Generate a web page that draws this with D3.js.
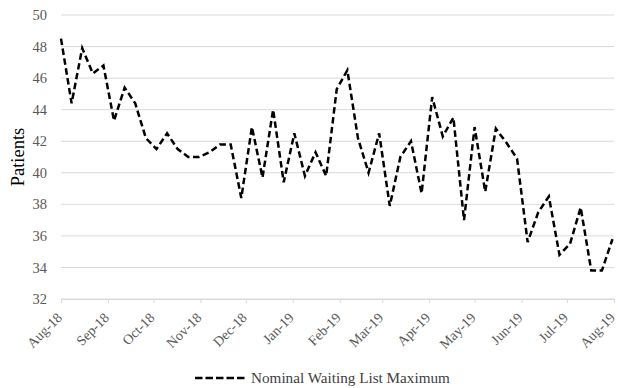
<!DOCTYPE html>
<html>
<head>
<meta charset="utf-8">
<script src="https://cdn.jsdelivr.net/npm/d3@7"></script>
<style>
  body { margin: 0; background: #fff; }
  svg { display: block; }
</style>
</head>
<body>
<div id="chart"></div>
<script>
// weekly values, starting 1 Aug 2018
const startDate = '2018-08-01';
const values = [
    48.5, 44.4, 47.9, 46.3, 46.8, 43.3, 45.4, 44.4, 42.2, 41.5,
    42.5, 41.5, 41.0, 41.0, 41.3, 41.8, 41.8, 38.4, 42.9, 39.7,
    44.0, 39.4, 42.5, 39.8, 41.3, 39.8, 45.3, 46.5, 42.2, 40.0,
    42.5, 37.9, 41.0, 42.0, 38.7, 44.8, 42.3, 43.5, 37.0, 42.9,
    38.8, 42.8, 41.9, 40.9, 35.6, 37.5, 38.5, 34.8, 35.5, 37.8,
    33.8, 33.8, 35.8
];
const yTicks = [32, 34, 36, 38, 40, 42, 44, 46, 48, 50];
const seriesName = 'Nominal Waiting List Maximum';
const yLabel = 'Patients';

const serif = '"Liberation Serif", "Times New Roman", serif';

const parse = d3.timeParse('%Y-%m-%d');
const t0 = parse(startDate);
const data = values.map((v, i) => ({ date: d3.timeDay.offset(t0, i * 7), value: v }));

const width = 618;
const height = 388;
const margin = { top: 15, right: 4, bottom: 89, left: 61 };

const svg = d3.select('#chart').append('svg')
    .attr('width', width)
    .attr('height', height);

const x = d3.scaleTime()
    .domain([parse('2018-08-01'), parse('2019-08-01')])
    .range([margin.left, width - margin.right]);

const y = d3.scaleLinear()
    .domain([32, 50])
    .range([height - margin.bottom, margin.top]);

// gridlines
svg.append('g')
    .selectAll('line')
    .data(yTicks)
    .join('line')
    .attr('x1', margin.left)
    .attr('x2', width - margin.right)
    .attr('y1', d => y(d))
    .attr('y2', d => y(d))
    .style('stroke', '#d9d9d9')
    .style('stroke-width', 1);

// y axis labels
svg.append('g')
    .attr('transform', 'translate(' + margin.left + ',0)')
    .call(d3.axisLeft(y).tickValues(yTicks).tickSize(0).tickPadding(14))
    .call(g => g.select('.domain').remove())
    .call(g => g.selectAll('text')
        .style('font-family', serif)
        .style('font-size', '14.5px')
        .style('fill', '#595959'));

// x axis
const xAxis = svg.append('g')
    .attr('transform', 'translate(0,' + y(32) + ')')
    .call(d3.axisBottom(x).ticks(d3.timeMonth.every(1)).tickFormat(d3.timeFormat('%b-%y')).tickSize(4).tickSizeOuter(0));
xAxis.select('.domain').style('stroke', '#d9d9d9');
xAxis.selectAll('.tick line').style('stroke', '#d9d9d9');
xAxis.selectAll('text')
    .style('font-family', serif)
    .style('font-size', '14px')
    .style('fill', '#595959')
    .attr('text-anchor', 'end')
    .attr('x', 0)
    .attr('y', 0)
    .attr('dy', '0.35em')
    .attr('transform', 'translate(-2,16) rotate(-45)');

// y axis title
svg.append('text')
    .attr('transform', 'translate(18,' + ((margin.top + height - margin.bottom) / 2) + ') rotate(-90)')
    .attr('text-anchor', 'middle')
    .attr('dy', '0.35em')
    .style('font-family', serif)
    .style('font-size', '18.5px')
    .style('fill', '#000')
    .text(yLabel);

// the line
const line = d3.line()
    .x(d => x(d.date))
    .y(d => y(d.value));

svg.append('path')
    .datum(data)
    .attr('d', line)
    .style('fill', 'none')
    .style('stroke', '#000')
    .style('stroke-width', 2.5)
    .style('stroke-dasharray', '6.5,3.5');

// legend
const legend = svg.append('g').attr('transform', 'translate(195,378)');
legend.append('line')
    .attr('x1', 0).attr('x2', 52)
    .attr('y1', 0).attr('y2', 0)
    .style('stroke', '#000')
    .style('stroke-width', 2.5)
    .style('stroke-dasharray', '7.5,3');
legend.append('text')
    .attr('x', 56)
    .attr('y', 0)
    .attr('dy', '0.35em')
    .style('font-family', serif)
    .style('font-size', '15.2px')
    .style('fill', '#404040')
    .text(seriesName);
</script>
</body>
</html>
